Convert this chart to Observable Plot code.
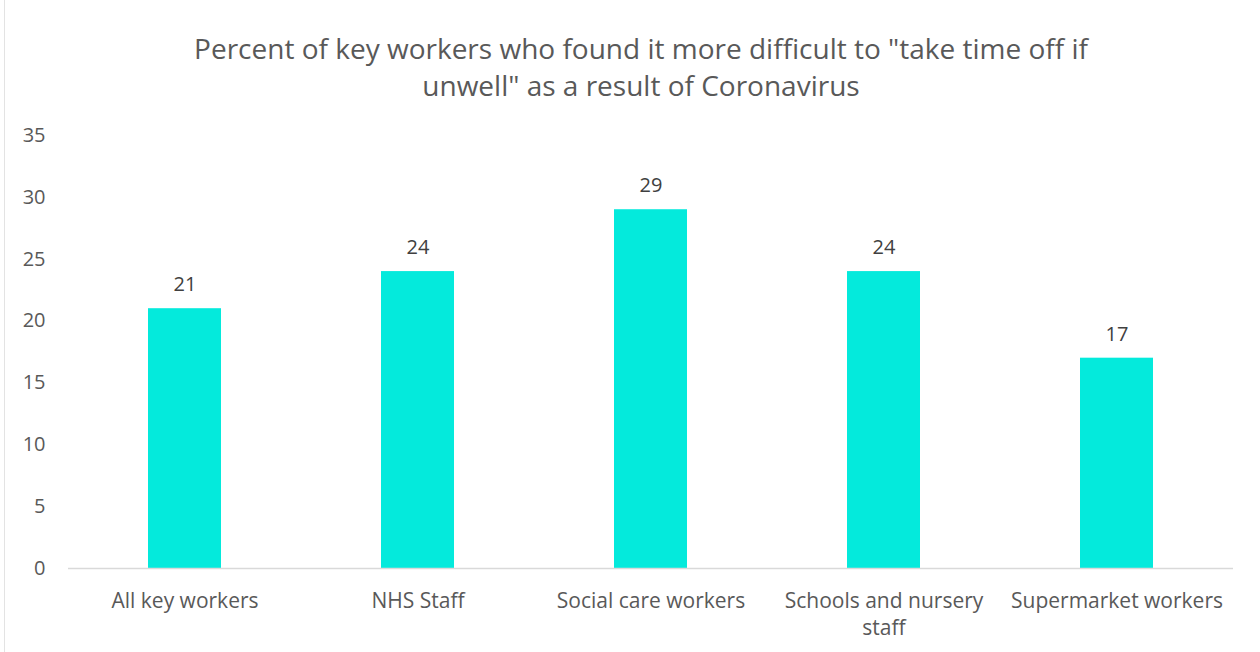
<!DOCTYPE html>
<html>
<head>
<meta charset="utf-8">
<script src="https://cdn.jsdelivr.net/npm/d3@7"></script>
<script src="https://cdn.jsdelivr.net/npm/@observablehq/plot@0.6"></script>
<style>
  body { margin: 0; background: #fff; font-family: "Open Sans", Lato, sans-serif; }
  #wrap { position: relative; width: 1260px; height: 652px; overflow: hidden; }
  #border { position: absolute; left: 4px; top: 0; width: 0; height: 652px; border-left: 1px solid #e3e3e3; }
  #title { height: 110px; box-sizing: border-box; padding-top: 30px; padding-left: 22px; text-align: center;
           font-size: 28px; line-height: 37px; color: #595959; }
  svg { display: block; }
</style>
</head>
<body>
<div id="wrap">
  <div id="border"></div>
  <div id="title">Percent of key workers who found it more difficult to "take time off if<br>unwell" as a result of Coronavirus</div>
  <div id="chart"></div>
</div>
<script>
const categories = ["All key workers", "NHS Staff", "Social care workers", "Schools and nursery staff", "Supermarket workers"];
const tickLabels = ["All key workers", "NHS Staff", "Social care workers", "Schools and nursery\nstaff", "Supermarket workers"];
const values = [21, 24, 29, 24, 17];
const yTicks = [0, 5, 10, 15, 20, 25, 30, 35];

const data = categories.map((c, i) => ({category: c, value: values[i]}));
const labelOf = new Map(categories.map((c, i) => [c, tickLabels[i]]));

const chart = Plot.plot({
  width: 1260,
  height: 542,
  marginTop: 25,
  marginBottom: 84,
  marginLeft: 68,
  marginRight: 27,
  style: {fontFamily: "'Open Sans', Lato, sans-serif", fontSize: "20px", color: "#595959", background: "transparent"},
  x: {domain: categories, paddingInner: 0.687, paddingOuter: 0.3435, align: 0.5, label: null},
  y: {domain: [0, 35], label: null},
  marks: [
    Plot.barY(data, {x: "category", y: "value", fill: "#04eadc"}),
    Plot.ruleY([0], {stroke: "#d9d9d9", strokeWidth: 1.5}),
    Plot.text(data, {x: "category", y: "value", text: d => String(d.value), dy: -24, fill: "#404040", fontSize: 20}),
    Plot.axisY({ticks: yTicks, tickSize: 0, tickPadding: 23, fontSize: 20, fill: "#595959", label: null}),
    Plot.axisX({tickSize: 0, tickPadding: 20, fontSize: 21, fill: "#595959", lineHeight: 1.3, tickFormat: d => labelOf.get(d), label: null})
  ]
});
document.getElementById("chart").appendChild(chart);
</script>
</body>
</html>
